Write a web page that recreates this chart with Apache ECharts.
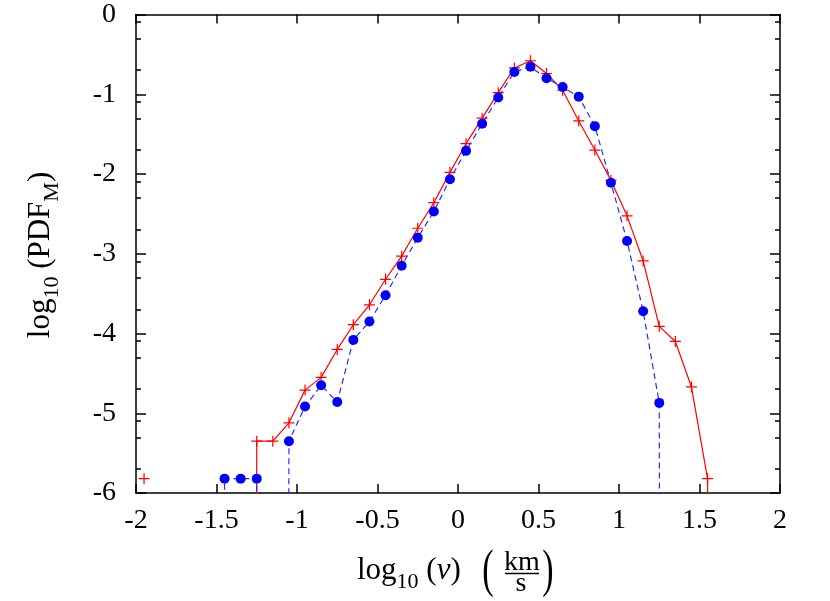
<!DOCTYPE html>
<html>
<head>
<meta charset="utf-8">
<script src="https://cdn.jsdelivr.net/npm/echarts@6/dist/echarts.min.js"></script>
<style>
    html, body { margin: 0; padding: 0; background: #fff; }
    #chart { width: 830px; height: 601px; }
</style>
</head>
<body>
<div id="chart"></div>
<script>
// log10(0) for empty bins: drawn as a drop off the bottom of the plot
var EMPTY = -99;

// bin centres, log10(v)
var binCenters = [-1.95, -1.85, -1.75, -1.65, -1.55, -1.45, -1.35, -1.25, -1.15, -1.05,
    -0.95, -0.85, -0.75, -0.65, -0.55, -0.45, -0.35, -0.25, -0.15, -0.05,
    0.05, 0.15, 0.25, 0.35, 0.45, 0.55, 0.65, 0.75, 0.85, 0.95,
    1.05, 1.15, 1.25, 1.35, 1.45, 1.55, 1.65];

// red solid line, + markers
var redPdf = [-5.82, null, null, null, null, null, EMPTY, -5.35, -5.35, -5.12,
    -4.71, -4.55, -4.20, -3.89, -3.64, -3.32, -3.03, -2.68, -2.36, -1.98,
    -1.62, -1.30, -0.98, -0.67, -0.58, -0.74, -0.95, -1.335, -1.70, -2.08,
    -2.525, -3.09, -3.91, -4.10, -4.67, -5.82, EMPTY];

// blue dashed line, filled dots
var bluePdf = [null, null, null, null, EMPTY, -5.82, -5.82, -5.82, EMPTY, -5.35,
    -4.915, -4.65, -4.86, -4.08, -3.85, -3.52, -3.15, -2.80, -2.47, -2.065,
    -1.71, -1.37, -1.04, -0.72, -0.655, -0.80, -0.91, -1.03, -1.40, -2.11,
    -2.84, -3.72, -4.87, EMPTY, null, null, null];

// minor ticks on the y axes
var yMinorTicks = [-0.097, -0.301, -0.699, -1.097, -1.301, -1.699, -2.097, -2.301, -2.699,
    -3.097, -3.301, -3.699, -4.097, -4.301, -4.699, -5.097, -5.301, -5.699];

var FONT = '"Liberation Serif", "DejaVu Serif", serif';

function toPoints(ys) {
    var pts = [];
    for (var i = 0; i < binCenters.length; i++) {
        var y = ys[i];
        if (y === EMPTY) {
            pts.push({ value: [binCenters[i], y], symbol: 'none' });
        } else {
            pts.push([binCenters[i], y]);
        }
    }
    return pts;
}

var myChart = echarts.init(document.getElementById('chart'));

var tickLabel = { color: '#000', fontFamily: FONT, fontSize: 28 };
var axisLine = { show: true, onZero: false, lineStyle: { color: '#000', width: 1.5 } };
var majorTick = { inside: true, length: 9, lineStyle: { color: '#000', width: 1.5 } };

// rich styles for titles with subscripts
var titleRich = {
    m: { fontFamily: FONT, fontSize: 31, lineHeight: 32, verticalAlign: 'top' },
    i: { fontFamily: FONT, fontSize: 31, fontStyle: 'italic', lineHeight: 32, verticalAlign: 'top' },
    s: { fontFamily: FONT, fontSize: 22, verticalAlign: 'top', padding: [16, 0, 0, 0] }
};

var option = {
    backgroundColor: '#fff',
    animation: false,
    grid: { left: 136, right: 50, top: 14.5, bottom: 108, containLabel: false },
    xAxis: [
        {
            type: 'value', position: 'bottom', min: -2, max: 2, interval: 0.5,
            axisLine: axisLine,
            axisTick: majorTick,
            axisLabel: Object.assign({ margin: 14 }, tickLabel),
            splitLine: { show: false }
        },
        {
            type: 'value', position: 'top', min: -2, max: 2, interval: 0.5,
            axisLine: axisLine,
            axisTick: majorTick,
            axisLabel: { show: false },
            splitLine: { show: false }
        }
    ],
    yAxis: [
        {
            type: 'value', position: 'left', min: -6, max: 0, interval: 1,
            axisLine: axisLine,
            axisTick: { inside: true, length: 10, lineStyle: { color: '#000', width: 1.5 } },
            axisLabel: Object.assign({ margin: 20 }, tickLabel),
            splitLine: { show: false }
        },
        {
            type: 'value', position: 'right', min: -6, max: 0, interval: 1,
            axisLine: axisLine,
            axisTick: { inside: true, length: 10, lineStyle: { color: '#000', width: 1.5 } },
            axisLabel: { show: false },
            splitLine: { show: false }
        },
        {
            type: 'value', position: 'left', min: -6, max: 0,
            axisLine: { show: false, onZero: false },
            axisTick: { inside: true, length: 5, customValues: yMinorTicks, lineStyle: { color: '#000', width: 1.5 } },
            axisLabel: { show: false },
            splitLine: { show: false }
        },
        {
            type: 'value', position: 'right', min: -6, max: 0,
            axisLine: { show: false, onZero: false },
            axisTick: { inside: true, length: 5, customValues: yMinorTicks, lineStyle: { color: '#000', width: 1.5 } },
            axisLabel: { show: false },
            splitLine: { show: false }
        }
    ],
    series: [
        {
            type: 'line',
            data: toPoints(redPdf),
            symbol: 'path://M0,4.45H10V5.55H0Z M4.45,0H5.55V10H4.45Z',
            symbolSize: 11,
            itemStyle: { color: '#ff0000' },
            lineStyle: { color: '#ff0000', width: 1.2 },
            connectNulls: false,
            clip: true,
            z: 2
        },
        {
            type: 'line',
            data: toPoints(bluePdf),
            symbol: 'circle',
            symbolSize: 10,
            itemStyle: { color: '#0000ff' },
            lineStyle: { color: '#2a2aff', width: 1.2, type: [6, 4] },
            connectNulls: false,
            clip: true,
            z: 3
        }
    ],
    graphic: [
        // y axis title, rotated
        {
            type: 'text',
            x: 44, y: 255,
            rotation: Math.PI / 2,
            style: {
                text: '{m|log}{s|10}{m| (PDF}{s|M}{m|)}',
                align: 'center', verticalAlign: 'middle',
                fill: '#000',
                rich: titleRich
            }
        },
        // x axis title
        {
            type: 'text',
            x: 357, y: 574,
            style: {
                text: '{m|log}{s|10}{m| (}{i|v}{m|)}',
                align: 'left', verticalAlign: 'middle',
                fill: '#000',
                rich: titleRich
            }
        },
        {
            type: 'text', x: 488, y: 572, scaleX: 1, scaleY: 1.55,
            style: { text: '(', fontFamily: FONT, fontSize: 34, align: 'center', verticalAlign: 'middle', fill: '#000' }
        },
        {
            type: 'text', x: 548, y: 572, scaleX: 1, scaleY: 1.55,
            style: { text: ')', fontFamily: FONT, fontSize: 34, align: 'center', verticalAlign: 'middle', fill: '#000' }
        },
        {
            type: 'text', x: 522, y: 563,
            style: { text: 'km', fontFamily: FONT, fontSize: 28, align: 'center', verticalAlign: 'middle', fill: '#000' }
        },
        {
            type: 'line',
            shape: { x1: 505, y1: 573.5, x2: 539, y2: 573.5 },
            style: { stroke: '#000', lineWidth: 1.3 }
        },
        {
            type: 'text', x: 521, y: 584,
            style: { text: 's', fontFamily: FONT, fontSize: 28, align: 'center', verticalAlign: 'middle', fill: '#000' }
        }
    ]
};

myChart.setOption(option);
</script>
</body>
</html>
